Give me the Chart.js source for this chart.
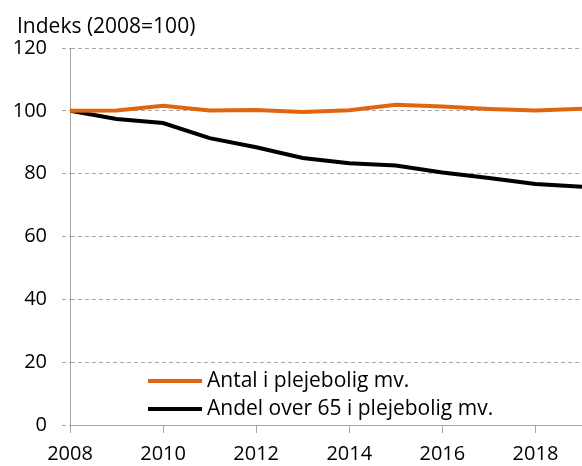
<!DOCTYPE html>
<html>
<head>
<meta charset="utf-8">
<script src="https://cdn.jsdelivr.net/npm/chart.js@4"></script>
<style>
  html, body { margin: 0; padding: 0; background: #fff; }
  #wrap { width: 582px; height: 466px; }
</style>
</head>
<body>
<div id="wrap"><canvas id="chart"></canvas></div>
<script>
const years = [2008, 2009, 2010, 2011, 2012, 2013, 2014, 2015, 2016, 2017, 2018, 2019];
const antal = [100, 100.1, 101.6, 100.1, 100.3, 99.6, 100.2, 101.9, 101.4, 100.6, 100.1, 100.7];
const andel = [100, 97.4, 96.1, 91.3, 88.4, 85.0, 83.3, 82.6, 80.4, 78.6, 76.7, 75.8];
const xTicks = [2008, 2010, 2012, 2014, 2016, 2018];
const seriesNames = ['Antal i plejebolig mv.', 'Andel over 65 i plejebolig mv.'];
const yTitle = 'Indeks (2008=100)';

const FONT = '"Open Sans", sans-serif';
const ORANGE = '#E0650F';
const GRID = '#A6A6A6';

// title top-left + legend drawn inside the plot area
const overlay = {
  id: 'overlay',
  afterDraw(chart) {
    const ctx = chart.ctx;
    ctx.save();
    ctx.font = '21px ' + FONT;
    ctx.fillStyle = '#000';
    ctx.textBaseline = 'alphabetic';
    ctx.textAlign = 'left';
    ctx.fillText(yTitle, 17, 33);

    const lineY = [381, 409];
    const textY = [387, 415];
    chart.data.datasets.forEach((ds, i) => {
      ctx.strokeStyle = ds.borderColor;
      ctx.lineWidth = 4;
      ctx.beginPath();
      ctx.moveTo(148, lineY[i]);
      ctx.lineTo(202, lineY[i]);
      ctx.stroke();
      ctx.fillText(ds.label, 207, textY[i]);
    });
    ctx.restore();
  }
};

new Chart(document.getElementById('chart'), {
  type: 'line',
  data: {
    datasets: [
      {
        label: seriesNames[0],
        data: years.map((y, i) => ({ x: y, y: antal[i] })),
        borderColor: ORANGE,
        borderWidth: 4,
        pointRadius: 0,
        tension: 0
      },
      {
        label: seriesNames[1],
        data: years.map((y, i) => ({ x: y, y: andel[i] })),
        borderColor: '#000000',
        borderWidth: 4,
        pointRadius: 0,
        tension: 0
      }
    ]
  },
  options: {
    responsive: true,
    maintainAspectRatio: false,
    animation: false,
    layout: { padding: { top: 48, right: 0, left: 0, bottom: 0 } },
    plugins: {
      legend: { display: false },
      title: { display: false },
      tooltip: { enabled: false }
    },
    scales: {
      x: {
        type: 'linear',
        min: 2008,
        max: 2019,
        afterBuildTicks: axis => { axis.ticks = xTicks.map(v => ({ value: v })); },
        afterFit: axis => { axis.height = 41; },
        border: { display: true, color: GRID, width: 1 },
        grid: { drawOnChartArea: false, drawTicks: true, tickLength: 8, color: GRID },
        ticks: {
          color: '#000',
          font: { family: FONT, size: 20 },
          padding: 9,
          maxRotation: 0,
          autoSkip: false,
          callback: v => String(v)
        }
      },
      y: {
        min: 0,
        max: 120,
        afterFit: axis => { axis.width = 70; },
        border: { display: true, color: GRID, width: 1, dash: [4, 3] },
        grid: {
          color: GRID,
          tickBorderDash: [4, 3],
          drawTicks: true,
          tickLength: 8
        },
        ticks: {
          stepSize: 20,
          color: '#000',
          font: { family: FONT, size: 20 },
          padding: 15
        }
      }
    }
  },
  plugins: [overlay]
});
</script>
</body>
</html>
